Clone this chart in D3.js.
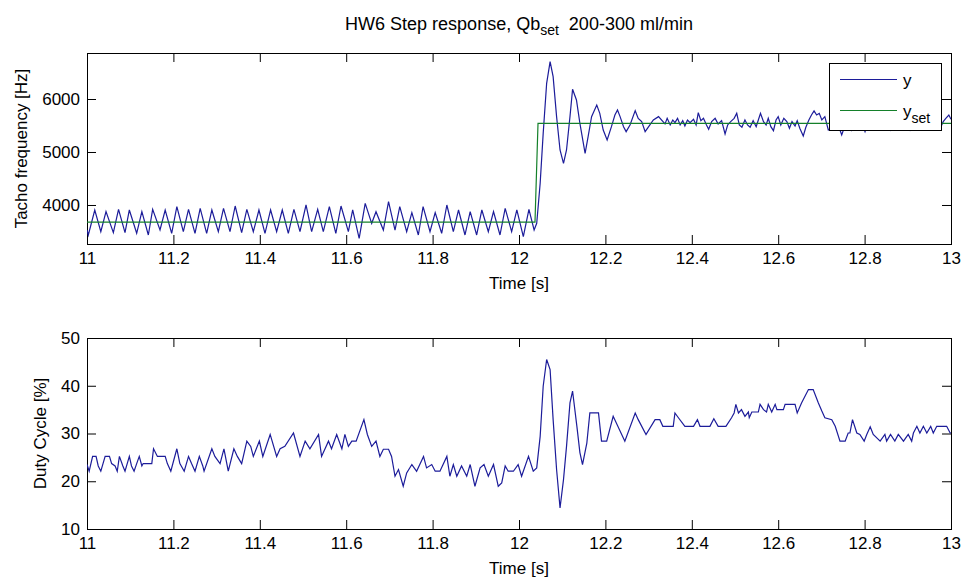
<!DOCTYPE html>
<html>
<head>
<meta charset="utf-8">
<script src="https://cdn.jsdelivr.net/npm/d3@7"></script>
<style>
  html, body { margin: 0; padding: 0; background: #ffffff; }
  svg { display: block; font-family: "Liberation Sans", Arial, Helvetica, sans-serif; }
  text { white-space: pre; }
</style>
</head>
<body>
<svg id="chart" width="961" height="578"></svg>
<script>
// ---- tick labels ----
const timeTicks  = [11, 11.2, 11.4, 11.6, 11.8, 12, 12.2, 12.4, 12.6, 12.8, 13];
const tachoTicks = [4000, 5000, 6000];
const dutyTicks  = [10, 20, 30, 40, 50];

// ---- measured tacho frequency y [Hz] ----
const tachoTime = [
  11.000, 11.003, 11.018, 11.032, 11.044, 11.061, 11.073, 11.088, 11.098, 11.115,
  11.127, 11.142, 11.152, 11.169, 11.181, 11.196, 11.208, 11.223, 11.235, 11.250,
  11.262, 11.277, 11.289, 11.304, 11.316, 11.331, 11.343, 11.358, 11.370, 11.385,
  11.398, 11.412, 11.425, 11.439, 11.452, 11.466, 11.479, 11.493, 11.507, 11.520,
  11.534, 11.547, 11.561, 11.576, 11.588, 11.605, 11.615, 11.630, 11.644, 11.659,
  11.669, 11.686, 11.698, 11.713, 11.724, 11.740, 11.752, 11.767, 11.778, 11.794,
  11.806, 11.821, 11.833, 11.848, 11.860, 11.875, 11.887, 11.902, 11.914, 11.929,
  11.941, 11.956, 11.968, 11.983, 11.995, 12.010, 12.023, 12.035, 12.041, 12.049,
  12.056, 12.064, 12.072, 12.079, 12.087, 12.095, 12.103, 12.110, 12.118, 12.124,
  12.133, 12.141, 12.153, 12.160, 12.168, 12.180, 12.187, 12.195, 12.204, 12.214,
  12.222, 12.228, 12.234, 12.242, 12.248, 12.257, 12.269, 12.276, 12.284, 12.292,
  12.303, 12.311, 12.323, 12.338, 12.343, 12.350, 12.356, 12.361, 12.367, 12.373,
  12.379, 12.384, 12.390, 12.396, 12.404, 12.410, 12.415, 12.421, 12.427, 12.434,
  12.439, 12.446, 12.454, 12.461, 12.469, 12.477, 12.483, 12.490, 12.498, 12.504,
  12.510, 12.516, 12.523, 12.529, 12.535, 12.542, 12.549, 12.554, 12.559, 12.566,
  12.572, 12.577, 12.583, 12.589, 12.595, 12.600, 12.606, 12.613, 12.620, 12.626,
  12.632, 12.639, 12.644, 12.650, 12.658, 12.664, 12.671, 12.677, 12.683, 12.689,
  12.695, 12.701, 12.708, 12.716, 12.724, 12.731, 12.739, 12.747, 12.755, 12.762,
  12.770, 12.778, 12.786, 12.793, 12.801, 12.809, 12.816, 12.824, 12.832, 12.840,
  12.847, 12.859, 12.867, 12.874, 12.882, 12.890, 12.897, 12.905, 12.913, 12.921,
  12.928, 12.936, 12.944, 12.951, 12.959, 12.967, 12.975, 12.982, 12.988, 12.995,
  13.000
];
const tachoValue = [
  3528, 3434, 3906, 3497, 3874, 3478, 3918, 3478, 3906, 3466,
  3874, 3434, 3918, 3528, 3906, 3466, 3969, 3497, 3918, 3466,
  3937, 3466, 3906, 3497, 3937, 3497, 3981, 3478, 3918, 3497,
  3906, 3466, 3906, 3497, 3906, 3466, 3918, 3497, 4000, 3497,
  3918, 3497, 3969, 3466, 3981, 3497, 3906, 3371, 4031, 3654,
  3874, 3528, 4063, 3528, 3969, 3497, 3855, 3434, 3969, 3497,
  3855, 3466, 4000, 3497, 3906, 3434, 3874, 3434, 3906, 3497,
  3874, 3434, 3937, 3497, 3906, 3403, 3918, 3528, 3654, 4409,
  5352, 6296, 6705, 6422, 5667, 5038, 4786, 5038, 5667, 6183,
  5981, 5541, 4975, 5289, 5667, 5887, 5730, 5415, 5227, 5478,
  5698, 5793, 5667, 5478, 5384, 5510, 5780, 5635, 5573, 5384,
  5510, 5604, 5667, 5529, 5635, 5510, 5604, 5554, 5635, 5510,
  5591, 5491, 5604, 5554, 5617, 5510, 5742, 5591, 5635, 5510,
  5428, 5573, 5635, 5529, 5591, 5340, 5510, 5573, 5635, 5730,
  5510, 5466, 5604, 5510, 5466, 5591, 5478, 5604, 5730, 5573,
  5510, 5635, 5478, 5403, 5604, 5667, 5510, 5635, 5573, 5447,
  5573, 5491, 5591, 5447, 5302, 5466, 5604, 5698, 5774, 5698,
  5730, 5604, 5667, 5415, 5466, 5573, 5510, 5321, 5510, 5573,
  5415, 5604, 5529, 5573, 5384, 5573, 5635, 5510, 5604, 5529,
  5635, 5415, 5573, 5635, 5510, 5604, 5554, 5415, 5604, 5541,
  5635, 5529, 5591, 5510, 5604, 5541, 5447, 5573, 5635, 5698,
  5617
];

// ---- tacho set point y_set [Hz] ----
const setTime  = [11, 12.037, 12.044, 13];
const setValue = [3675, 3675, 5540, 5540];

// ---- duty cycle [%] ----
const dutyTime = [
  11.000, 11.005, 11.013, 11.021, 11.026, 11.032, 11.042, 11.052, 11.057, 11.065,
  11.070, 11.075, 11.083, 11.088, 11.098, 11.103, 11.109, 11.115, 11.121, 11.127,
  11.130, 11.150, 11.154, 11.163, 11.181, 11.186, 11.194, 11.208, 11.215, 11.225,
  11.235, 11.242, 11.250, 11.260, 11.268, 11.271, 11.289, 11.296, 11.308, 11.317,
  11.327, 11.340, 11.348, 11.358, 11.370, 11.379, 11.385, 11.399, 11.407, 11.424,
  11.439, 11.447, 11.458, 11.478, 11.493, 11.505, 11.516, 11.536, 11.543, 11.559,
  11.566, 11.578, 11.590, 11.597, 11.605, 11.613, 11.623, 11.641, 11.649, 11.659,
  11.669, 11.678, 11.686, 11.698, 11.705, 11.713, 11.721, 11.732, 11.740, 11.752,
  11.763, 11.779, 11.786, 11.798, 11.806, 11.817, 11.833, 11.840, 11.848, 11.856,
  11.867, 11.879, 11.887, 11.898, 11.910, 11.919, 11.929, 11.941, 11.952, 11.960,
  11.968, 11.975, 11.987, 11.998, 12.006, 12.022, 12.033, 12.041, 12.049, 12.056,
  12.064, 12.072, 12.079, 12.087, 12.095, 12.103, 12.110, 12.118, 12.124, 12.134,
  12.141, 12.147, 12.157, 12.164, 12.184, 12.191, 12.203, 12.218, 12.245, 12.269,
  12.276, 12.294, 12.315, 12.326, 12.333, 12.357, 12.361, 12.369, 12.384, 12.404,
  12.413, 12.419, 12.442, 12.451, 12.461, 12.479, 12.492, 12.498, 12.502, 12.508,
  12.515, 12.523, 12.531, 12.533, 12.539, 12.554, 12.558, 12.566, 12.573, 12.577,
  12.585, 12.593, 12.597, 12.612, 12.616, 12.639, 12.644, 12.654, 12.670, 12.681,
  12.693, 12.701, 12.708, 12.724, 12.732, 12.743, 12.755, 12.762, 12.766, 12.772,
  12.782, 12.789, 12.799, 12.805, 12.813, 12.820, 12.836, 12.847, 12.851, 12.860,
  12.870, 12.878, 12.890, 12.901, 12.909, 12.913, 12.921, 12.928, 12.936, 12.944,
  12.953, 12.959, 12.967, 12.990, 12.998, 13.000
];
const dutyValue = [
  23.5, 22.1, 25.2, 25.2, 23.2, 22.1, 25.2, 25.2, 23.7, 23.2,
  22.1, 25.2, 23.2, 22.1, 25.2, 23.2, 22.1, 23.7, 25.2, 23.2,
  23.7, 23.7, 26.8, 25.2, 25.2, 23.7, 22.1, 26.8, 23.7, 22.1,
  25.2, 23.7, 22.1, 25.2, 23.2, 22.1, 26.8, 25.2, 23.7, 26.8,
  22.1, 26.8, 25.2, 23.7, 28.4, 27.3, 25.2, 28.4, 25.2, 29.8,
  25.2, 26.8, 27.3, 30.1, 25.2, 28.4, 26.8, 29.8, 25.2, 28.4,
  26.8, 29.8, 26.8, 29.8, 27.3, 28.4, 28.4, 32.9, 29.8, 27.3,
  28.4, 25.2, 26.7, 26.7, 25.2, 21.05, 22.45, 18.95, 21.75, 23.5,
  22.1, 25.2, 22.8, 23.5, 22.1, 22.1, 25.2, 21.05, 23.5, 21.05,
  23.2, 21.05, 23.5, 18.95, 22.8, 23.5, 21.05, 23.5, 18.95, 19.65,
  23.2, 22.1, 22.1, 23.5, 21.05, 25.2, 22.1, 22.8, 29.4, 39.9,
  45.5, 43.4, 32.9, 22.45, 14.4, 20.35, 27.3, 36.4, 38.9, 31.5,
  26.0, 23.5, 28.0, 34.3, 34.3, 28.4, 28.4, 33.6, 28.4, 34.3,
  32.9, 29.8, 32.9, 32.9, 31.5, 31.5, 34.3, 33.3, 31.5, 31.5,
  32.9, 31.5, 31.5, 33.1, 31.5, 31.5, 33.3, 34.3, 36.1, 34.3,
  35.0, 33.6, 34.5, 33.3, 34.5, 34.5, 36.1, 35.0, 34.5, 36.1,
  34.5, 36.1, 35.0, 35.0, 36.1, 36.1, 34.3, 36.4, 39.2, 39.2,
  36.4, 34.7, 33.3, 32.9, 31.5, 28.4, 28.4, 30.1, 30.1, 32.9,
  30.1, 29.8, 28.4, 29.8, 31.4, 29.8, 28.4, 29.8, 28.4, 29.8,
  28.4, 29.8, 28.4, 29.8, 28.4, 30.1, 31.5, 30.1, 31.5, 30.1,
  31.5, 30.1, 31.5, 31.5, 30.1, 30.1
];

// ---- layout ----
const svg = d3.select("#chart");
const FONT = 17;
const plotLeft = 87, plotRight = 951;
const panels = [
  { top: 53,  bottom: 244, domain: [3264, 6868], ticks: tachoTicks, label: "Tacho frequency [Hz]", labelX: 27 },
  { top: 338, bottom: 529, domain: [10, 50],     ticks: dutyTicks,  label: "Duty Cycle [%]",       labelX: 46 }
];
const blue  = "#1c1c9a";
const green = "#14802a";

const x = d3.scaleLinear().domain([11, 13]).range([plotLeft, plotRight]);

function styleAxis(g, withText) {
  g.select(".domain").remove();
  g.selectAll(".tick line").attr("stroke", "#000").attr("stroke-width", 1);
  g.selectAll(".tick text")
    .attr("fill", "#000")
    .attr("font-size", FONT)
    .attr("font-family", "\"Liberation Sans\", Arial, sans-serif")
    .style("display", withText ? null : "none");
  g.attr("font-family", null).attr("font-size", null);
}

function drawPanel(p, idx) {
  const y = d3.scaleLinear().domain(p.domain).range([p.bottom, p.top]);
  const g = svg.append("g");

  g.append("rect")
    .attr("x", plotLeft).attr("y", p.top)
    .attr("width", plotRight - plotLeft).attr("height", p.bottom - p.top)
    .attr("fill", "#fff");

  const clipId = "clip" + idx;
  svg.append("clipPath").attr("id", clipId)
    .append("rect")
    .attr("x", plotLeft).attr("y", p.top)
    .attr("width", plotRight - plotLeft).attr("height", p.bottom - p.top);

  // axes with inward ticks on all four sides
  g.append("g").attr("transform", `translate(0,${p.bottom})`)
    .call(d3.axisBottom(x).tickValues(timeTicks).tickSize(-9).tickSizeOuter(0).tickPadding(8)
      .tickFormat(d => String(d)))
    .call(s => styleAxis(s, true));
  g.append("g").attr("transform", `translate(0,${p.top})`)
    .call(d3.axisTop(x).tickValues(timeTicks).tickSize(-9).tickSizeOuter(0))
    .call(s => styleAxis(s, false));
  g.append("g").attr("transform", `translate(${plotLeft},0)`)
    .call(d3.axisLeft(y).tickValues(p.ticks).tickSize(-9).tickSizeOuter(0).tickPadding(7)
      .tickFormat(d => String(d)))
    .call(s => styleAxis(s, true));
  g.append("g").attr("transform", `translate(${plotRight},0)`)
    .call(d3.axisRight(y).tickValues(p.ticks).tickSize(-9).tickSizeOuter(0))
    .call(s => styleAxis(s, false));

  // box
  g.append("rect")
    .attr("x", plotLeft + 0.5).attr("y", p.top + 0.5)
    .attr("width", plotRight - plotLeft).attr("height", p.bottom - p.top)
    .attr("fill", "none").attr("stroke", "#000").attr("stroke-width", 1);

  // axis labels
  g.append("text")
    .attr("x", (plotLeft + plotRight) / 2).attr("y", p.bottom + 45)
    .attr("text-anchor", "middle").attr("font-size", FONT).attr("fill", "#000")
    .text("Time [s]");
  g.append("text")
    .attr("transform", `translate(${p.labelX},${(p.top + p.bottom) / 2}) rotate(-90)`)
    .attr("text-anchor", "middle").attr("font-size", FONT).attr("fill", "#000")
    .text(p.label);

  return { y, g, clipId };
}

const panelTop = drawPanel(panels[0], 0);
const panelBot = drawPanel(panels[1], 1);

// series lines
const tachoLine = d3.line().x(d => x(d[0])).y(d => panelTop.y(d[1]));
const dutyLine  = d3.line().x(d => x(d[0])).y(d => panelBot.y(d[1]));

panelTop.g.append("path")
  .datum(d3.zip(tachoTime, tachoValue))
  .attr("clip-path", `url(#${panelTop.clipId})`)
  .attr("d", tachoLine)
  .attr("fill", "none").attr("stroke", blue).attr("stroke-width", 1.2)
  .attr("stroke-linejoin", "miter");

panelTop.g.append("path")
  .datum(d3.zip(setTime, setValue))
  .attr("clip-path", `url(#${panelTop.clipId})`)
  .attr("d", tachoLine)
  .attr("fill", "none").attr("stroke", green).attr("stroke-width", 1.2);

panelBot.g.append("path")
  .datum(d3.zip(dutyTime, dutyValue))
  .attr("clip-path", `url(#${panelBot.clipId})`)
  .attr("d", dutyLine)
  .attr("fill", "none").attr("stroke", blue).attr("stroke-width", 1.2)
  .attr("stroke-linejoin", "miter");

// legend
const legend = svg.append("g");
legend.append("rect")
  .attr("x", 829.5).attr("y", 63.5).attr("width", 112).attr("height", 67)
  .attr("fill", "#fff").attr("stroke", "#000").attr("stroke-width", 1);
const legendItems = [
  { color: blue,  main: "y", sub: "",    cy: 79.5 },
  { color: green, main: "y", sub: "set", cy: 110.5 }
];
legendItems.forEach(it => {
  legend.append("line")
    .attr("x1", 840).attr("x2", 897).attr("y1", it.cy).attr("y2", it.cy)
    .attr("stroke", it.color).attr("stroke-width", 1.2);
  const t = legend.append("text")
    .attr("x", 903).attr("y", it.cy + 6)
    .attr("font-size", FONT).attr("fill", "#000");
  t.append("tspan").text(it.main);
  if (it.sub) t.append("tspan").attr("dy", 6).attr("font-size", 14).text(it.sub);
});

// title
const title = svg.append("text")
  .attr("x", (plotLeft + plotRight) / 2).attr("y", 30)
  .attr("text-anchor", "middle").attr("font-size", 18).attr("fill", "#000");
title.append("tspan").text("HW6 Step response, Qb");
title.append("tspan").attr("dy", 5).attr("font-size", 14).text("set");
title.append("tspan").attr("dy", -5).text("  200-300 ml/min");
</script>
</body>
</html>
